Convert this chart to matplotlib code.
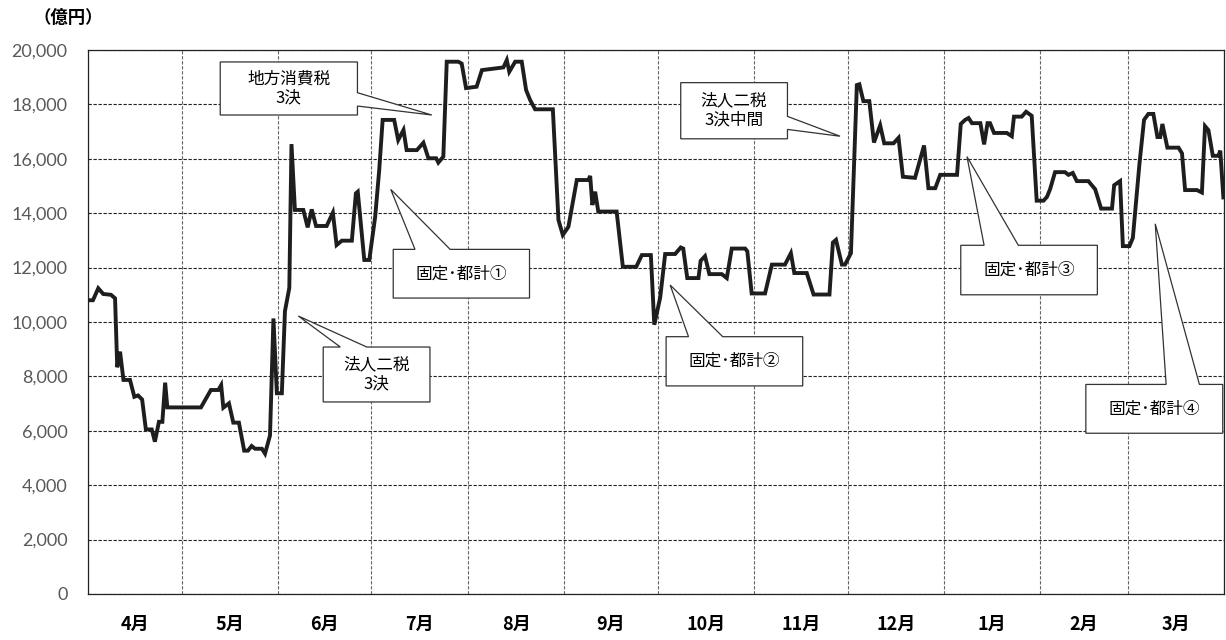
import numpy as np
import matplotlib
matplotlib.use("Agg")
import matplotlib.pyplot as plt
from matplotlib.patches import Polygon
from matplotlib.ticker import FuncFormatter, FixedLocator

plt.rcParams['font.family'] = ['Noto Sans CJK JP', 'DejaVu Sans']

# months of the fiscal year and their lengths
months = ['4月', '5月', '6月', '7月', '8月', '9月', '10月', '11月', '12月', '1月', '2月', '3月']
month_days = [30, 31, 30, 31, 31, 30, 31, 30, 31, 31, 28, 31]

# daily balance (億円): day from 1 April, value
day = [0, 1.5, 3.2, 4.8, 7.3, 8.6, 9.3, 10.2, 11.3, 13.4, 14.8, 16.0, 17.3, 18.5, 20.4,
       21.4, 22.7, 23.8, 24.7, 25.4, 36.2, 37.7, 39.4, 41.8, 42.7, 43.4, 45.2, 46.6, 48.4,
       50.1, 51.3, 52.5, 53.6, 55.8, 56.8, 58.4, 59.5, 60.6, 62.2, 63.2, 64.6, 65.3, 66.4,
       69.1, 70.5, 71.8, 73.2, 76.6, 78.6, 79.8, 81.5, 84.7, 86.0, 86.6, 88.7, 90.3, 92.2,
       93.5, 94.6, 98.3, 99.6, 101.3, 102.3, 105.6, 107.7, 109.3, 111.8, 112.5, 114.1, 115.2,
       118.9, 120.0, 121.4, 124.8, 126.5, 133.4, 134.5, 135.3, 137.2, 139.3, 140.7, 142.0,
       143.6, 149.3, 151.1, 152.5, 154.3, 157.0, 160.7, 161.3, 162.0, 162.9, 163.9, 169.8,
       171.8, 176.1, 177.9, 180.8, 181.9, 183.8, 185.4, 188.6, 190.4, 191.2, 192.5, 196.1,
       196.8, 198.2, 199.6, 203.6, 205.2, 206.8, 211.1, 211.8, 213.2, 217.5, 219.7, 223.9,
       225.8, 226.9, 230.9, 233.1, 238.2, 239.3, 240.3, 242.2, 243.2, 245.1, 247.0, 247.8,
       249.1, 251.0, 252.5, 254.5, 255.8, 258.8, 260.4, 261.8, 265.7, 268.6, 270.0, 272.2,
       273.8, 279.2, 280.4, 281.8, 282.9, 284.0, 286.7, 287.9, 289.0, 289.8, 291.1, 295.2,
       296.8, 297.5, 300.0, 301.4, 303.2, 304.8, 307.0, 308.1, 309.1, 310.7, 313.9, 315.0,
       316.4, 317.7, 321.4, 323.6, 325.5, 329.0, 329.7, 331.6, 332.5, 334.6, 335.7, 337.8,
       339.3, 340.7, 342.3, 343.6, 344.5, 345.2, 346.8, 350.4, 351.5, 352.5, 356.3, 357.9,
       358.9, 360.0, 361.4, 363.2, 363.8, 364.8]
balance = [10800, 10800, 11240, 11030, 11000, 10870, 8335, 8910, 7870, 7870, 7250, 7300, 7150,
           6050, 6050, 5600, 6330, 6330, 7770, 6860, 6860, 7160, 7500, 7500, 7680, 6850, 7010,
           6300, 6300, 5270, 5270, 5440, 5340, 5340, 5160, 5830, 10130, 7380, 7380, 10400,
           11250, 16540, 14120, 14120, 13480, 14140, 13530, 13530, 14020, 12830, 12990, 12990,
           14730, 14790, 12280, 12280, 13870, 15590, 17430, 17430, 16690, 17060, 16320, 16320,
           16590, 16020, 16020, 15860, 16080, 19570, 19570, 19500, 18600, 18650, 19260, 19360,
           19630, 19200, 19570, 19570, 18530, 18160, 17820, 17820, 13750, 13200, 13500, 15220,
           15220, 15370, 14300, 14790, 14060, 14060, 12030, 12030, 12460, 12460, 9900, 10900,
           12500, 12500, 12740, 12700, 11615, 11615, 12250, 12420, 11760, 11760, 11615, 12700,
           12700, 12600, 11050, 11050, 12110, 12110, 12530, 11800, 11800, 11010, 11010, 12920,
           13020, 12110, 12110, 12530, 18710, 18740, 18120, 18120, 16600, 17230, 16570, 16570,
           16770, 15340, 15300, 16490, 14920, 14920, 15410, 15410, 17280, 17430, 17500, 17310,
           17310, 16530, 17310, 17310, 16950, 16950, 16830, 17550, 17550, 17730, 17580, 14460,
           14460, 14600, 14880, 15510, 15510, 15410, 15480, 15180, 15180, 14880, 14170, 14170,
           15030, 15180, 12790, 12790, 13090, 15780, 17430, 17650, 17650, 16800, 16800, 17280,
           16410, 16410, 16200, 14850, 14850, 14760, 17200, 17050, 16110, 16110, 16300, 14580]

# callouts: text, box (left, right, bottom, top), wedge side, wedge base, tip
callouts = [
    ('地方消費税\n3決', (42.4, 86.5, 17610, 19560), 'right', (17940, 18430), (110.4, 17610)),
    ('法人二税\n3決', (75.5, 109.8, 7060, 9080), 'top', (81.0, 89.5), (67.5, 10220)),
    ('固定･都計①', (98.0, 141.8, 10880, 12670), 'top', (105.0, 116.3), (97.2, 14875)),
    ('固定･都計②', (185.7, 229.6, 7650, 9460), 'top', (192.9, 203.9), (187.0, 11360)),
    ('法人二税\n3決中間', (190.4, 224.7, 16735, 18800), 'right', (17080, 17560), (241.6, 16830)),
    ('固定･都計③', (280.4, 324.3, 11000, 12820), 'top', (287.9, 298.9), (282.4, 16080)),
    ('固定･都計④', (320.6, 364.6, 5910, 7705), 'top', (346.4, 357.1), (342.9, 13610)),
]


def draw_callout(ax, text, box, side, base, tip):
    left, right, bottom, top = box
    if side == 'top':
        a, b = base
        verts = [(left, bottom), (right, bottom), (right, top), (b, top), tip, (a, top), (left, top)]
    else:
        lo, hi = base
        verts = [(left, bottom), (right, bottom), (right, lo), tip, (right, hi), (right, top), (left, top)]
    ax.add_patch(Polygon(verts, closed=True, facecolor='white', edgecolor='#333333',
                         linewidth=0.9, zorder=5, clip_on=False))
    ax.text((left + right) / 2, (bottom + top) / 2, text, ha='center', va='center',
            fontsize=12, linespacing=1.15, zorder=6)


fig = plt.figure(figsize=(12.26, 6.4), dpi=100)
ax = fig.add_axes([88.3 / 1226, 46 / 640, (1224 - 88.3) / 1226, 544 / 640])

ax.plot(day, balance, color='#1e1e1e', linewidth=2.8, solid_joinstyle='miter', zorder=3)

ax.set_xlim(0, 365)
ax.set_ylim(0, 20000)

bounds = np.cumsum([0] + month_days)
ax.xaxis.set_major_locator(FixedLocator(bounds))
ax.xaxis.set_major_formatter(FuncFormatter(lambda v, p: ''))
ax.set_xticks((bounds[:-1] + bounds[1:]) / 2, months, minor=True)
ax.tick_params(axis='x', which='both', length=0)
ax.tick_params(axis='x', which='minor', pad=15, labelsize=13)
for lab in ax.get_xticklabels(minor=True):
    lab.set_fontweight('bold')

ax.set_yticks(range(0, 20001, 2000))
ax.yaxis.set_major_formatter(FuncFormatter(lambda v, p: f'{int(v):,}'))
ax.tick_params(axis='y', length=0, pad=15, labelsize=13, labelcolor='#595959')
for lab in ax.get_yticklabels():
    lab.set_family(['Lato', 'DejaVu Sans'])

ax.grid(axis='y', color='#222222', linestyle=(0, (3, 1.5)), linewidth=0.8)
ax.grid(axis='x', which='major', color='#666666', linestyle=(0, (3, 1.5)), linewidth=0.8)
ax.set_axisbelow(True)
for s in ax.spines.values():
    s.set_color('#222222')
    s.set_linewidth(0.9)

for text, box, side, base, tip in callouts:
    draw_callout(ax, text, box, side, base, tip)

fig.text(68 / 1226, 1 - 18 / 640, '（億円）', ha='center', va='center', fontsize=12.5,
         fontweight='bold')

fig.savefig('out.png', dpi=100)
